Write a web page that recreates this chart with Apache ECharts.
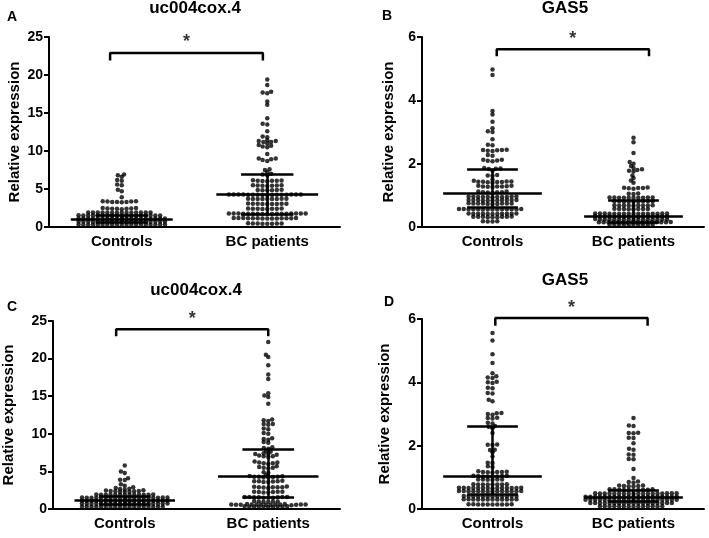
<!DOCTYPE html>
<html><head><meta charset="utf-8">
<script src="https://cdn.jsdelivr.net/npm/echarts@6/dist/echarts.min.js"></script>
<style>html,body{margin:0;padding:0;background:#fff}#c{width:709px;height:538px}</style>
</head><body><div id="c"></div>
<script>
const categories = ['Controls', 'BC patients'];
const panelLetters = ['A', 'B', 'C', 'D'];
const panelTitles = ['uc004cox.4', 'GAS5', 'uc004cox.4', 'GAS5'];
const yMax = [25, 6, 25, 6];
const yInterval = [5, 2, 5, 2];
const yAxisName = 'Relative expression';
const significance = ['*', '*', '*', '*'];

// Panel A
const aControls = [6.9, 6.8, 6.6, 6.2, 6.1, 5.6, 5.5, 4.9, 4.7, 3.9,
  3.4, 3.35, 3.3, 3.3, 3.25, 3.35, 3.4, 3.3,
  2.5, 2.45, 2.4, 2.4, 2.5, 2.45, 2.35, 2.4,
  1.9, 1.88, 1.91, 1.89, 1.92, 1.9, 1.87, 1.91, 1.89, 1.9, 1.88, 1.92, 1.9, 1.89,
  1.5, 1.48, 1.51, 1.49, 1.52, 1.5, 1.47, 1.51, 1.49, 1.5, 1.48, 1.52, 1.5, 1.49, 1.51, 1.48, 1.5, 1.53,
  1.1, 1.08, 1.11, 1.09, 1.12, 1.1, 1.07, 1.11, 1.09, 1.1, 1.08, 1.12, 1.1, 1.09, 1.11, 1.08, 1.1, 1.13, 1.09,
  0.7, 0.68, 0.71, 0.69, 0.72, 0.7, 0.67, 0.71, 0.69, 0.7, 0.68, 0.72, 0.7, 0.69, 0.71, 0.68, 0.7, 0.73, 0.69,
  0.3, 0.28, 0.31, 0.29, 0.32, 0.3, 0.27, 0.31, 0.29, 0.3, 0.28, 0.32, 0.3, 0.29, 0.31, 0.28, 0.3, 0.33, 0.29];
const aPatients = [19.4, 18.7, 17.8, 17.7, 17.6, 16.5, 16.1, 14.3, 13.6, 13.5, 12.6, 11.9, 11.8,
  11.4, 11.2, 11.3, 11.3, 11.2, 11.0, 10.7, 10.6, 10.8, 10.5, 9.6, 9.0, 8.9, 8.8, 8.7, 9.0, 7.6, 7.5, 7.2,
  6.9, 6.8, 7.0,
  6.1, 6.05, 6.12, 6.08, 6.15, 6.1, 6.02,
  5.45, 5.4, 5.5, 5.43, 5.47, 5.42, 5.48,
  4.85, 4.9, 4.82, 4.88, 4.86, 4.84,
  4.25, 4.22, 4.28, 4.26, 4.24, 4.27, 4.21, 4.25, 4.29, 4.23, 4.26, 4.24, 4.27, 4.22, 4.25, 4.28,
  3.7, 3.68, 3.72, 3.69, 3.71, 3.67, 3.73, 3.7, 3.69,
  3.05, 3.02, 3.08, 3.04, 3.06, 3.03, 3.07, 3.05, 3.04,
  2.4, 2.38, 2.42, 2.39, 2.41, 2.37, 2.43, 2.4,
  1.75, 1.72, 1.78, 1.74, 1.76, 1.73, 1.77, 1.75, 1.71, 1.79, 1.74, 1.76, 1.73, 1.77, 1.75, 1.72, 1.78,
  1.15, 1.12, 1.18, 1.14, 1.16, 1.13, 1.17, 1.15, 1.11, 1.19, 1.14, 1.16, 1.13, 1.17,
  0.45, 0.42, 0.48, 0.44, 0.46, 0.43, 0.47, 0.45];

// Panel B
const bControls = [4.97, 4.8, 3.66, 3.55, 3.32, 3.12, 3.02, 3.0, 2.77, 2.6, 2.58,
  2.43, 2.42, 2.4, 2.44, 2.41, 2.43,
  2.27, 2.25,
  2.12, 2.08, 2.1, 2.12, 2.09,
  1.86, 1.84, 1.85, 1.83, 1.78,
  1.64, 1.62, 1.63,
  1.5, 1.46, 1.44, 1.42, 1.43, 1.41, 1.42, 1.44, 1.43, 1.4,
  1.3, 1.28, 1.27, 1.29, 1.28, 1.26, 1.28, 1.3,
  1.12, 1.1, 1.08, 1.1, 1.09, 1.1, 1.12,
  0.96, 0.95, 0.95, 0.96, 0.95, 0.94, 0.95, 0.96, 0.95, 0.95, 0.96,
  0.85, 0.84, 0.85, 0.84, 0.85, 0.84, 0.85, 0.85, 0.84, 0.85, 0.85,
  0.74, 0.74, 0.73, 0.74, 0.74, 0.73, 0.75, 0.74, 0.73, 0.74,
  0.56, 0.56, 0.55, 0.57, 0.56, 0.55, 0.57, 0.56, 0.55, 0.56, 0.56, 0.55, 0.57, 0.56,
  0.42, 0.42, 0.41, 0.43, 0.42, 0.41, 0.43, 0.42, 0.41, 0.42, 0.42,
  0.32, 0.32, 0.31, 0.32, 0.32, 0.31, 0.33, 0.32, 0.31,
  0.18, 0.17, 0.18, 0.17];
const bPatients = [2.82, 2.68, 2.34, 2.05, 2.0, 1.93, 1.86, 1.82, 1.75, 1.78, 1.8, 1.63, 1.55, 1.47, 1.4,
  1.25, 1.23, 1.22, 1.24, 1.21, 1.23,
  1.06, 1.04, 1.05,
  0.93, 0.92, 0.92, 0.93, 0.92, 0.93, 0.92, 0.92, 0.93, 0.92,
  0.81, 0.8, 0.81, 0.81, 0.8, 0.8, 0.81, 0.81, 0.8,
  0.68, 0.68, 0.69, 0.68, 0.68, 0.68, 0.67, 0.69, 0.68,
  0.57, 0.57, 0.56, 0.57, 0.57, 0.58, 0.56, 0.57,
  0.43, 0.42, 0.42, 0.42, 0.42, 0.43, 0.42, 0.42, 0.43, 0.42, 0.42, 0.43, 0.42, 0.42, 0.42, 0.43,
  0.33, 0.33, 0.32, 0.33, 0.33, 0.33, 0.32, 0.33, 0.34, 0.32, 0.33, 0.33, 0.32, 0.33, 0.32, 0.33,
  0.24, 0.24, 0.23, 0.24, 0.24, 0.24, 0.23, 0.24, 0.25, 0.23, 0.24, 0.24, 0.23, 0.24, 0.23, 0.24,
  0.15, 0.15, 0.14, 0.15, 0.15, 0.15, 0.14, 0.15, 0.16, 0.14, 0.15, 0.15, 0.14, 0.15, 0.14, 0.15,
  0.06, 0.06, 0.07, 0.06, 0.06, 0.07, 0.06, 0.06, 0.07, 0.06];

// Panel C
const cControls = [5.8, 5.0, 4.8, 4.1, 3.9, 3.85, 3.3, 3.1, 2.9, 2.8, 2.65, 2.6, 2.7, 2.5,
  2.35, 2.3, 2.4, 2.3, 2.35, 2.25, 2.4, 2.45,
  1.9, 1.88, 1.92, 1.89, 1.91, 1.9, 1.87, 1.92, 1.89, 1.9, 1.88, 1.91, 1.9,
  1.5, 1.48, 1.52, 1.49, 1.51, 1.5, 1.47, 1.52, 1.49, 1.5, 1.48, 1.51, 1.5, 1.49, 1.51, 1.48, 1.5, 1.53, 1.49,
  1.1, 1.08, 1.12, 1.09, 1.11, 1.1, 1.07, 1.12, 1.09, 1.1, 1.08, 1.11, 1.1, 1.09, 1.11, 1.08, 1.1, 1.13, 1.09,
  0.7, 0.68, 0.72, 0.69, 0.71, 0.7, 0.67, 0.72, 0.69, 0.7, 0.68, 0.71, 0.7, 0.69, 0.71, 0.68, 0.7, 0.73, 0.69,
  0.3, 0.28, 0.32, 0.29, 0.31, 0.3, 0.27, 0.32, 0.29, 0.3, 0.28, 0.31, 0.3, 0.29, 0.31, 0.28, 0.3, 0.33];
const cPatients = [22.2, 20.5, 20.2, 19.1, 17.9, 17.3, 15.4, 15.1, 14.9, 14.0,
  11.9, 11.8, 11.7, 11.3, 11.3, 11.2, 10.7, 10.6, 10.1, 10.0, 9.4, 9.3, 9.2, 8.9, 8.8,
  8.2, 8.1, 8.0, 7.7, 7.6,
  7.3, 7.1, 7.0, 6.9, 7.0, 7.2, 7.3, 7.4,
  6.2, 6.1, 6.0, 6.2, 6.1, 6.3,
  5.5, 5.4, 5.6, 5.5, 5.7,
  4.9, 4.8,
  4.3, 4.2, 4.3, 4.4, 4.2, 4.3, 4.25, 4.35, 4.5,
  3.7, 3.6, 3.7, 3.65, 3.7, 3.6, 3.75,
  2.9, 3.0, 2.9, 2.85, 2.95, 2.9, 2.8, 2.9,
  2.3, 2.2, 2.25, 2.3, 2.2, 2.25, 2.3,
  1.6, 1.55, 1.5, 1.6, 1.55, 1.5, 1.6, 1.55, 1.5, 1.6,
  1.0, 0.95, 1.05, 1.0, 0.95, 1.0,
  0.6, 0.55, 0.6, 0.65, 0.55, 0.6, 0.55, 0.6, 0.65, 0.6, 0.55, 0.6, 0.5, 0.6, 0.55, 0.6,
  0.3, 0.25, 0.3, 0.35, 0.25, 0.3, 0.35, 0.3, 0.25, 0.3];

// Panel D
const dControls = [5.56, 5.32, 4.89, 4.61, 4.29, 4.19, 4.14, 4.15, 4.02, 4.0, 3.98, 3.83, 3.81, 3.66, 3.65, 3.45, 3.4,
  3.03, 2.98, 3.0, 3.02, 2.87, 2.86, 2.88, 2.72, 2.7,
  2.62, 2.6, 2.55, 2.4,
  2.03, 2.02, 2.04, 1.87, 1.86, 1.79, 1.66, 1.45, 1.46, 1.35, 1.33,
  1.17, 1.18, 1.16, 1.17, 1.19, 1.15, 1.17,
  1.04, 1.03, 1.05, 1.03, 1.04, 1.03, 1.05, 1.03,
  0.93, 0.92, 0.93, 0.93, 0.92, 0.93,
  0.77, 0.77, 0.78, 0.77, 0.77, 0.78, 0.77, 0.77,
  0.66, 0.66, 0.67, 0.66, 0.66, 0.67, 0.66, 0.66, 0.66, 0.66, 0.67, 0.66, 0.65, 0.66,
  0.56, 0.56, 0.57, 0.56, 0.56, 0.57, 0.56, 0.55, 0.56, 0.56, 0.57, 0.56, 0.55, 0.56,
  0.4, 0.41, 0.4, 0.4, 0.41, 0.4, 0.4, 0.41, 0.4, 0.41, 0.4, 0.4,
  0.3, 0.3, 0.31, 0.3, 0.3, 0.31, 0.3, 0.3, 0.3, 0.31, 0.3, 0.3,
  0.14, 0.15, 0.14, 0.14, 0.15, 0.14, 0.14, 0.15, 0.14, 0.14];
const dPatients = [2.87, 2.64, 2.62, 2.4, 2.41, 2.39, 2.24, 2.25, 2.08, 1.9, 1.87, 1.72, 1.71, 1.58, 1.57, 1.26, 0.98, 0.87, 0.84, 0.85,
  0.73, 0.72, 0.74, 0.73, 0.72, 0.74,
  0.61, 0.6, 0.62, 0.61, 0.6, 0.62, 0.61, 0.59, 0.6, 0.62,
  0.49, 0.48, 0.5, 0.48, 0.49, 0.48, 0.5, 0.48, 0.49, 0.48, 0.5, 0.48, 0.48, 0.49, 0.48, 0.5, 0.49, 0.48,
  0.39, 0.38, 0.39, 0.38, 0.39, 0.38, 0.39, 0.38, 0.39, 0.38, 0.39, 0.38, 0.38, 0.39, 0.38, 0.39, 0.39, 0.38, 0.38, 0.39,
  0.29, 0.28, 0.29, 0.28, 0.29, 0.28, 0.29, 0.28, 0.29, 0.28, 0.29, 0.28, 0.28, 0.29, 0.28, 0.29, 0.29, 0.28, 0.28, 0.29,
  0.19, 0.18, 0.19, 0.18, 0.19, 0.18, 0.19, 0.18, 0.19, 0.18, 0.19, 0.18, 0.18, 0.19, 0.18, 0.19, 0.19, 0.18,
  0.09, 0.08, 0.09, 0.08, 0.09, 0.09, 0.08, 0.09, 0.09, 0.09, 0.08, 0.09, 0.09, 0.08];

// Median and interquartile range per panel [controls, patients]
const medians = [[1.05, 4.25], [1.08, 0.35], [1.2, 4.3], [1.03, 0.38]];
const q1s = [[0.6, 1.65], [0.63, 0.15], [0.6, 1.55], [0.47, 0.25]];
const q3s = [[1.6, 7.0], [1.82, 0.85], [1.7, 7.95], [2.62, 0.58]];

const groups = [[aControls, aPatients], [bControls, bPatients], [cControls, cPatients], [dControls, dPatients]];

// ---- layout (positions / styles) ----
const FONT = 'Liberation Sans, Arial, Helvetica, sans-serif';
const layout = [
  { grid: { left: 49, top: 37, width: 291, height: 190 }, nameGap: 27, title: [195, 0], letter: [7, 10],
    bracket: { x: [0.42, 1.47], y: 22.9, drop: 21.9 } },
  { grid: { left: 422, top: 37, width: 282, height: 190 }, nameGap: 26, title: [565, 0], letter: [382, 9],
    bracket: { x: [0.53, 1.61], y: 5.61, drop: 5.39 } },
  { grid: { left: 50, top: 321, width: 290, height: 188 }, nameGap: 37, title: [196, 282], letter: [7, 300],
    bracket: { x: [0.44, 1.50], y: 23.9, drop: 22.96 } },
  { grid: { left: 422, top: 319, width: 282, height: 190 }, nameGap: 30, title: [565, 272], letter: [384, 295],
    bracket: { x: [0.52, 1.60], y: 6.03, drop: 5.79 } }
];
const DOT = 4.5;       // marker diameter, px
const SX = 4.8, SY = 2.6;  // swarm spacing, px (horizontal / vertical)
const MED_HALF = 0.35, IQR_HALF = 0.18;

// beeswarm layout with an elliptical footprint
function swarm(values, kPx) {
  const pts = values.map(v => ({ v: v, y: v * kPx, x: 0 })).sort((a, b) => a.y - b.y);
  const placed = [];
  const ok = (q, c, p) => {
    const dx = (q.x - c) / SX, dy = (q.y - p.y) / SY;
    return dx * dx + dy * dy >= 1 - 1e-6;
  };
  pts.forEach(p => {
    const near = placed.filter(q => Math.abs(q.y - p.y) < SY);
    const cands = [0];
    near.forEach(q => {
      const t = (q.y - p.y) / SY;
      const dx = SX * Math.sqrt(1 - t * t);
      cands.push(q.x + dx, q.x - dx);
    });
    cands.sort((a, b) => Math.abs(a) - Math.abs(b) || a - b);
    for (const c of cands) {
      if (near.every(q => ok(q, c, p))) { p.x = c; break; }
    }
    placed.push(p);
  });
  return placed;
}

const axisLineStyle = { color: '#000', width: 2 };
const option = {
  animation: false,
  backgroundColor: '#fff',
  grid: layout.map(l => Object.assign({ containLabel: false }, l.grid)),
  xAxis: [],
  yAxis: [],
  series: [],
  graphic: []
};

layout.forEach((l, p) => {
  option.xAxis.push({
    type: 'category', gridIndex: p, data: categories, boundaryGap: true,
    axisLine: { lineStyle: axisLineStyle },
    axisTick: { alignWithLabel: true, length: 5, lineStyle: { color: '#000', width: 2 } },
    axisLabel: { color: '#000', fontWeight: 'bold', fontSize: 15, fontFamily: FONT, margin: 7 },
    splitLine: { show: false }
  });
});
layout.forEach((l, p) => {
  option.xAxis.push({ type: 'value', gridIndex: p, min: 0, max: 2, show: false, splitLine: { show: false } });
  option.yAxis.push({
    type: 'value', gridIndex: p, min: 0, max: yMax[p], interval: yInterval[p],
    name: yAxisName, nameLocation: 'middle', nameGap: l.nameGap,
    nameTextStyle: { color: '#000', fontWeight: 'bold', fontSize: 15, fontFamily: FONT },
    axisLine: { show: true, lineStyle: axisLineStyle },
    axisTick: { show: true, length: 5, lineStyle: { color: '#000', width: 2 } },
    axisLabel: { color: '#000', fontWeight: 'bold', fontSize: 14, fontFamily: FONT, margin: 6 },
    splitLine: { show: false }
  });

  const kY = l.grid.height / yMax[p];
  const kX = l.grid.width / 2;
  groups[p].forEach((vals, g) => {
    const c = g + 0.5;
    const sw = swarm(vals, kY);
    const med = medians[p][g], lo = q1s[p][g], hi = q3s[p][g];
    option.series.push({
      type: 'scatter', xAxisIndex: 4 + p, yAxisIndex: p,
      symbol: 'circle', symbolSize: DOT, itemStyle: { color: '#000' },
      data: sw.map(s => [c + s.x / kX, s.v]),
      silent: true,
      markLine: {
        silent: true, symbol: ['none', 'none'], label: { show: false },
        lineStyle: { color: '#000', width: 2.5, type: 'solid' },
        data: [
          [{ coord: [c - MED_HALF, med] }, { coord: [c + MED_HALF, med] }],
          [{ coord: [c - IQR_HALF, lo] }, { coord: [c + IQR_HALF, lo] }],
          [{ coord: [c - IQR_HALF, hi] }, { coord: [c + IQR_HALF, hi] }],
          [{ coord: [c, lo] }, { coord: [c, hi] }]
        ]
      }
    });
  });

  const b = l.bracket;
  option.series.push({
    type: 'line', xAxisIndex: 4 + p, yAxisIndex: p, clip: false, silent: true,
    symbol: 'none', lineStyle: { color: '#000', width: 2.5 },
    data: [[b.x[0], b.drop], [b.x[0], b.y], [b.x[1], b.y], [b.x[1], b.drop]]
  });
  option.series.push({
    type: 'scatter', xAxisIndex: 4 + p, yAxisIndex: p, clip: false, silent: true,
    symbolSize: 1, itemStyle: { color: 'rgba(0,0,0,0)' },
    label: { show: true, position: 'top', distance: 1, formatter: significance[p],
      color: '#000', fontSize: 18, fontWeight: 'bold', fontFamily: FONT },
    data: [[(b.x[0] + b.x[1]) / 2, b.y]]
  });

  option.graphic.push({
    type: 'text', x: l.title[0], y: l.title[1], silent: true,
    style: { text: panelTitles[p], font: 'bold 17px ' + FONT, fill: '#000', textAlign: 'center', textVerticalAlign: 'top' }
  });
  option.graphic.push({
    type: 'text', x: l.letter[0], y: l.letter[1], silent: true,
    style: { text: panelLetters[p], font: 'bold 14px ' + FONT, fill: '#000', textAlign: 'left', textVerticalAlign: 'top' }
  });
});

const chart = echarts.init(document.getElementById('c'), null, { renderer: 'canvas' });
chart.setOption(option);
</script></body></html>
